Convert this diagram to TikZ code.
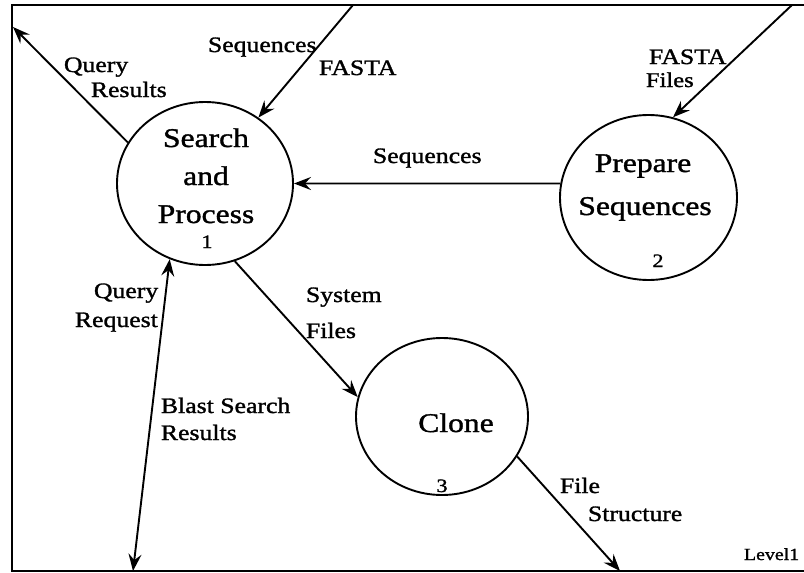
\documentclass[tikz,border=0pt]{standalone}
\usepackage{fontspec}
\setmainfont{Liberation Serif}[FakeStretch=1.17,FakeBold=1.3]
\usetikzlibrary{shapes.geometric,arrows.meta}
\begin{document}
\begin{tikzpicture}[x=1pt,y=-1pt,
  line width=1.9pt,
  tip/.tip={Stealth[length=17pt,width=13pt,inset=6pt]},
  proc/.style={draw,ellipse,inner sep=0pt,line width=1.9pt},
  big/.style={anchor=base,font=\fontsize{27}{30}\selectfont,inner sep=0pt},
  num/.style={anchor=base,font=\fontsize{19}{22}\selectfont,inner sep=0pt},
  lbl/.style={anchor=base west,font=\fontsize{22}{25}\selectfont,inner sep=0pt},
  flow/.style={-tip},
  flow2/.style={tip-tip}]
\useasboundingbox (0,0) rectangle (804,573);

% context frame (open on the right)
\draw (804,5) -- (12,5) -- (12,571) -- (804,571);

% processes
\node[proc,minimum width=176pt,minimum height=163pt] (c1) at (205,183.5) {};
\node[proc,minimum width=177pt,minimum height=165pt] (c2) at (648.5,197.5) {};
\node[proc,minimum width=172pt,minimum height=157pt] (c3) at (442,416.5) {};

\node[big] (t1a) at (206,147) {Search};
\node[big] (t1b) at (206,185) {and};
\node[big] (t1c) at (206,223) {Process};
\node[num] (n1) at (207,248) {1};

\node[big] (t2a) at (643,172) {Prepare};
\node[big] (t2b) at (645,215) {Sequences};
\node[num] (n2) at (658,267) {2};

\node[big] (t3a) at (456,432) {Clone};
\node[num] (n3) at (442,492) {3};

% free ends of the flows on the frame
\coordinate (qr) at (13,27);
\coordinate (fa) at (353,5);
\coordinate (ff) at (792,5);
\coordinate (bs) at (133,571);
\coordinate (fs) at (620,571);

% flows
\draw[flow] (c1.152) -- (qr);
\draw[flow] (fa) -- (c1.51);
\draw[flow] (ff) -- (c2.73.5);
\draw[flow] (c2.171.5) -- (c1.-0.5);
\draw[flow2] (c1.245) -- (bs);
\draw[flow] (c1.-69) -- (c3.167);
\draw[flow] (c3.-28) -- (fs);

% flow labels
\node[lbl] (l1) at (63,72) {Query};
\node[lbl] (l2) at (90,97) {Results};
\node[lbl] (l3) at (207,52) {Sequences};
\node[lbl] (l4) at (318,75) {FASTA};
\node[lbl] (l5) at (648,64) {FASTA};
\node[lbl,font=\fontsize{21}{24}\selectfont] (l6) at (645,87) {Files};
\node[lbl] (l7) at (372,163) {Sequences};
\node[lbl] (l8) at (93,298) {Query};
\node[lbl] (l9) at (74,327) {Request};
\node[lbl] (l10) at (305,302) {System};
\node[lbl] (l11) at (305,338) {Files};
\node[lbl] (l12) at (160,413) {Blast Search};
\node[lbl] (l13) at (160,440) {Results};
\node[lbl] (l14) at (559,493) {File};
\node[lbl] (l15) at (587,521) {Structure};
\node[lbl,font=\fontsize{17}{20}\selectfont] (lv) at (743,560) {Level1};
\end{tikzpicture}
\end{document}
